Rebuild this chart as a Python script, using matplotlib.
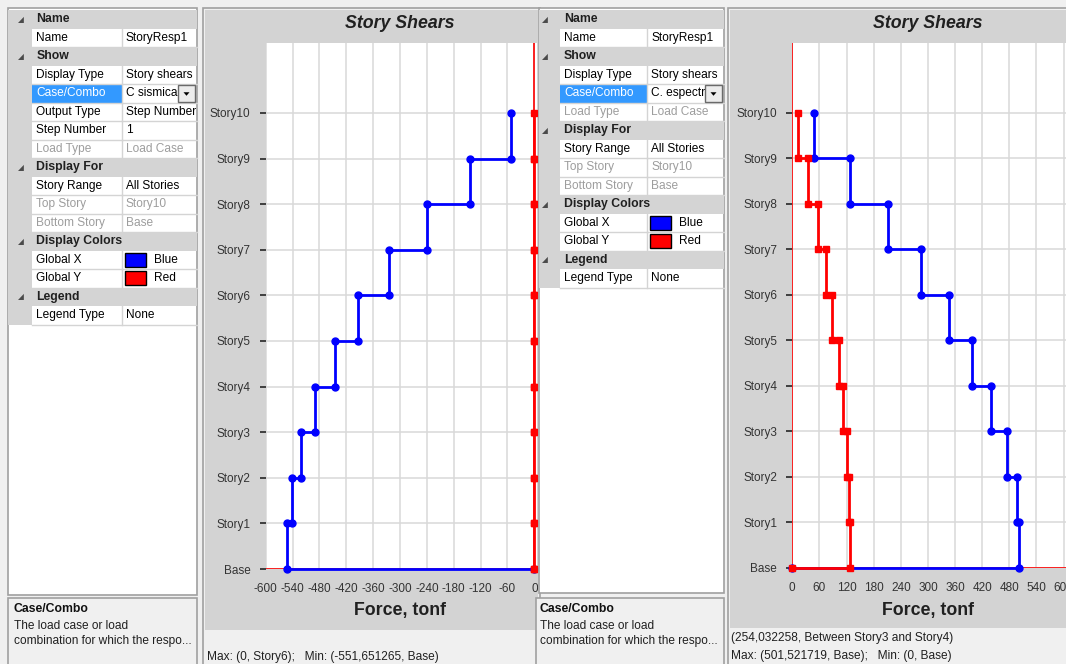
import matplotlib
matplotlib.use("Agg")
import matplotlib.pyplot as plt
from matplotlib.patches import Rectangle, Polygon
from matplotlib.transforms import Bbox, TransformedBbox

plt.rcParams['font.family'] = ['Liberation Sans', 'DejaVu Sans']
plt.rcParams['axes.unicode_minus'] = False

W, H = 1066, 664
ROW = 18.5
GREY = '#d4d4d4'
PANEL = '#d3d3d3'
WINDOW = '#f0f0f0'
DISABLED = '#9d9d9d'

# story levels and story shears (tonf), listed Story1 .. Story10
stories = ["Base", "Story1", "Story2", "Story3", "Story4", "Story5",
           "Story6", "Story7", "Story8", "Story9", "Story10"]
seismic_x = [-551.65, -542.0, -522.0, -489.0, -445.5, -394.0, -325.0, -240.0, -143.6, -52.0]
seismic_y = [0.0, 0.0, 0.0, 0.0, 0.0, 0.0, 0.0, 0.0, 0.0, 0.0]
spectral_x = [501.52, 496.0, 474.0, 439.0, 398.4, 346.0, 284.0, 210.7, 128.5, 47.0]
spectral_y = [128.3, 125.4, 121.0, 113.0, 103.3, 88.5, 73.8, 57.5, 35.4, 13.3]

seismic_ticks = [-600, -540, -480, -420, -360, -300, -240, -180, -120, -60, 0]
spectral_ticks = [0, 60, 120, 180, 240, 300, 360, 420, 480, 540, 600]

# property grid contents
grid_seismic = [
    ("cat", "Name"),
    ("row", "Name", "StoryResp1"),
    ("cat", "Show"),
    ("row", "Display Type", "Story shears"),
    ("sel", "Case/Combo", "C sismica sx"),
    ("row", "Output Type", "Step Number"),
    ("row", "Step Number", "1"),
    ("dis", "Load Type", "Load Case"),
    ("cat", "Display For"),
    ("row", "Story Range", "All Stories"),
    ("dis", "Top Story", "Story10"),
    ("dis", "Bottom Story", "Base"),
    ("cat", "Display Colors"),
    ("color", "Global X", "Blue"),
    ("color", "Global Y", "Red"),
    ("cat", "Legend"),
    ("row", "Legend Type", "None"),
]
grid_spectral = [
    ("cat", "Name"),
    ("row", "Name", "StoryResp1"),
    ("cat", "Show"),
    ("row", "Display Type", "Story shears"),
    ("sel", "Case/Combo", "C. espectral"),
    ("dis", "Load Type", "Load Case"),
    ("cat", "Display For"),
    ("row", "Story Range", "All Stories"),
    ("dis", "Top Story", "Story10"),
    ("dis", "Bottom Story", "Base"),
    ("cat", "Display Colors"),
    ("color", "Global X", "Blue"),
    ("color", "Global Y", "Red"),
    ("cat", "Legend"),
    ("row", "Legend Type", "None"),
]
help_lines = ["The load case or load", "combination for which the respo..."]
swatch = {"Blue": "#0000ff", "Red": "#ff0000"}


def px_axes(x0, y0, x1, y1, z):
    ax = fig.add_axes([x0 / W, 1 - y1 / H, (x1 - x0) / W, (y1 - y0) / H])
    ax.set_zorder(z)
    return ax


def overlay(z):
    ax = px_axes(0, 0, W, H, z)
    ax.set_xlim(0, W)
    ax.set_ylim(H, 0)
    ax.axis('off')
    ax.patch.set_visible(False)
    return ax


def draw_grid(ax, left, tri_x, margin_r, split, right, top, bottom, rows):
    ax.add_patch(Rectangle((left, top), right - left, bottom - top,
                           fc='white', ec='#a0a0a0', lw=1.2))
    ax.add_patch(Rectangle((left, top + 2), margin_r - left, len(rows) * ROW,
                           fc=GREY, ec='none'))
    y = top + 2
    for row in rows:
        kind = row[0]
        yc = y + ROW / 2
        if kind == "cat":
            ax.add_patch(Rectangle((left, y), right - left, ROW, fc=GREY, ec='none'))
            ax.text(tri_x, yc, '\u25e2', fontsize=5.5, color='#4a4a4a',
                    ha='center', va='center', family='DejaVu Sans')
            ax.text(margin_r + 4, yc, row[1], fontsize=8.8, weight='bold',
                    color='#202020', va='center')
        else:
            label, value = row[1], row[2]
            tcol = DISABLED if kind == "dis" else 'black'
            if kind == "sel":
                ax.add_patch(Rectangle((margin_r, y), split - margin_r, ROW,
                                       fc='#3399ff', ec='none'))
                tcol_label = 'white'
            else:
                tcol_label = tcol
            ax.text(margin_r + 4, yc, label, fontsize=8.6, color=tcol_label, va='center')
            if kind == "color":
                ax.add_patch(Rectangle((split + 3, yc - 7), 21, 14,
                                       fc=swatch[value], ec='black', lw=1))
                ax.text(split + 32, yc, value, fontsize=8.6, color='black', va='center')
            elif kind == "sel":
                bx = right - 19
                t = ax.text(split + 4, yc, value, fontsize=8.6, color=tcol, va='center')
                # value is cut where the drop-down button begins
                t.set_clip_box(TransformedBbox(Bbox.from_extents(split, y, bx, y + ROW),
                                               ax.transData))
                t.set_clip_on(True)
                ax.add_patch(Rectangle((bx, y + 1), 17, ROW - 2, fc='#ececec',
                                       ec='#6a6a6a', lw=1, zorder=5))
                ax.add_patch(Polygon([(bx + 5.5, yc - 1), (bx + 11.5, yc - 1),
                                      (bx + 8.5, yc + 2.5)], closed=True,
                                     fc='black', ec='none', zorder=6))
            else:
                ax.text(split + 4, yc, value, fontsize=8.6, color=tcol, va='center')
            ax.plot([margin_r, right], [y + ROW, y + ROW], color=GREY, lw=1)
            ax.plot([split, split], [y, y + ROW], color=GREY, lw=1)
        y += ROW


def draw_help(ax, left, right, text_x):
    ax.add_patch(Rectangle((left, 598), right - left, 70, fc=WINDOW,
                           ec='#a0a0a0', lw=1.2))
    ax.text(text_x, 609, "Case/Combo", fontsize=8.8, weight='bold',
            color='#101010', va='center')
    ax.text(text_x, 626, help_lines[0], fontsize=8.6, color='#202020', va='center')
    ax.text(text_x, 641, help_lines[1], fontsize=8.6, color='#202020', va='center')


def step_path(shears):
    xs, ys = [0.0], [0]
    for i, v in enumerate(shears):
        xs += [v, v]
        ys += [i, i + 1]
    return xs, ys


def draw_chart(box, xlim, ticks, series):
    ax = px_axes(*box, z=1)
    ax.set_facecolor('white')
    ax.set_xlim(xlim)
    ax.set_ylim(0, 11.535)
    ax.set_xticks(ticks)
    ax.set_xticklabels([str(t) for t in ticks])
    ax.set_yticks(range(len(stories)))
    ax.set_yticklabels(stories)
    ax.grid(True, color='#d9d9d9', lw=1.1)
    ax.set_axisbelow(True)
    for s in ax.spines.values():
        s.set_visible(False)
    ax.tick_params(axis='y', length=4, width=1.3, color='#333333', pad=7,
                   labelsize=8.5, labelcolor='#333333')
    ax.tick_params(axis='x', length=0, pad=10, labelsize=8.5, labelcolor='#333333')
    ax.axhline(0, color='red', lw=1.2, zorder=2)
    ax.axvline(0, color='red', lw=1.2, zorder=2)
    for shears, color, marker in series:
        xs, ys = step_path(shears)
        ax.plot(xs, ys, color=color, lw=2, marker=marker, ms=5,
                clip_on=False, zorder=3)
    return ax


fig = plt.figure(figsize=(W / 100, H / 100), dpi=100, facecolor=WINDOW)

base = overlay(0)
# chart windows
for x0, x1, ybar in [(203, 540, 630), (728, 1072, 628)]:
    base.add_patch(Rectangle((x0, 8), x1 - x0, 660, fc=WINDOW, ec='#a0a0a0', lw=1.2))
    base.add_patch(Rectangle((x0 + 2, 10), x1 - x0 - 4, ybar - 10, fc=PANEL, ec='none'))
base.text(400, 24, "Story Shears", fontsize=12.8, weight='bold', style='italic',
          color='#202020', ha='center', va='center')
base.text(400, 611, "Force, tonf", fontsize=12.8, weight='bold',
          color='#202020', ha='center', va='center')
base.text(928, 24, "Story Shears", fontsize=12.8, weight='bold', style='italic',
          color='#202020', ha='center', va='center')
base.text(928, 611, "Force, tonf", fontsize=12.8, weight='bold',
          color='#202020', ha='center', va='center')
base.text(207, 657, "Max: (0, Story6);   Min: (-551,651265, Base)",
          fontsize=8.6, color='#202020', va='center')
base.text(731, 638, "(254,032258, Between Story3 and Story4)",
          fontsize=8.6, color='#202020', va='center')
base.text(731, 656, "Max: (501,521719, Base);   Min: (0, Base)",
          fontsize=8.6, color='#202020', va='center')

draw_grid(base, 8, 20.5, 32.3, 121.7, 197, 8, 595, grid_seismic)
draw_help(base, 8, 197, 14)

draw_chart((265.7, 43, 537, 569), (-600, 6), seismic_ticks,
           [(seismic_x, 'blue', 'o'), (seismic_y, 'red', 's')])
draw_chart((792.3, 43, 1066.3, 568), (0, 606), spectral_ticks,
           [(spectral_x, 'blue', 'o'), (spectral_y, 'red', 's')])

top = overlay(2)
draw_grid(top, 539, 545, 560, 647, 724, 8, 593, grid_spectral)
draw_help(top, 536, 724, 539.5)

fig.savefig("out.png", dpi=100, facecolor=WINDOW)
